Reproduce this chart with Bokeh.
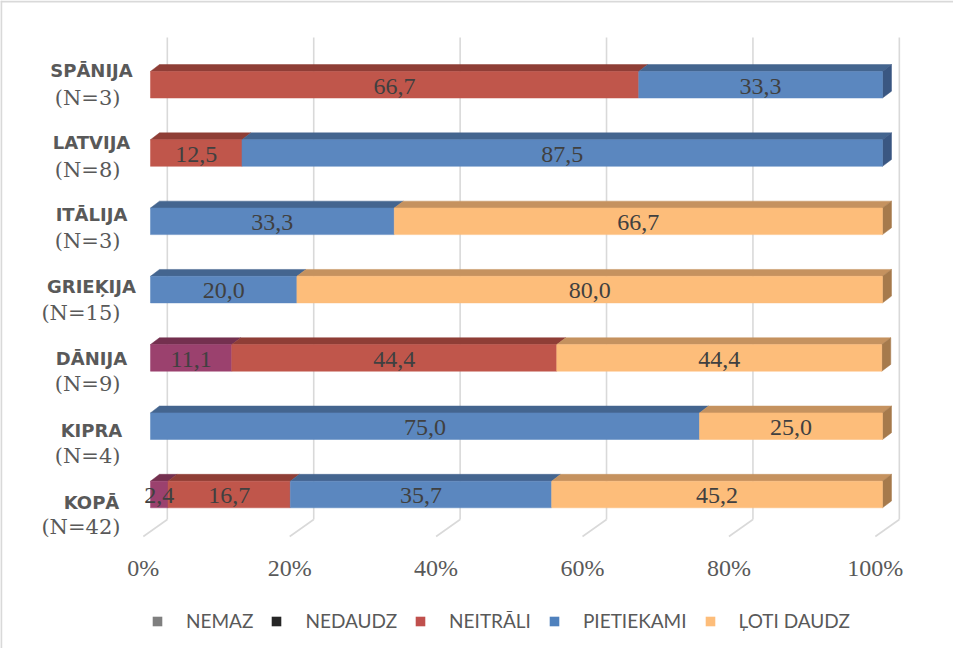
from bokeh.plotting import figure
from bokeh.models import Range1d, Legend, LegendItem, Span
from bokeh.core.properties import value
from bokeh.embed import file_html
from bokeh.resources import INLINE

# ---------------- data ----------------
categories = ["KOPĀ", "KIPRA", "DĀNIJA", "GRIEĶIJA", "ITĀLIJA", "LATVIJA", "SPĀNIJA"]
sample_n = [42, 4, 9, 15, 3, 8, 3]
series_names = ["NEMAZ", "NEDAUDZ", "NEITRĀLI", "PIETIEKAMI", "ĻOTI DAUDZ"]
nemaz = [0, 0, 0, 0, 0, 0, 0]
nedaudz = [2.4, 0, 11.1, 0, 0, 0, 0]
neitrali = [16.7, 0, 44.4, 0, 0, 12.5, 66.7]
pietiekami = [35.7, 75.0, 0, 20.0, 33.3, 87.5, 33.3]
loti_daudz = [45.2, 25.0, 44.4, 80.0, 66.7, 0, 0]
x_ticks = [0, 20, 40, 60, 80, 100]
x_tick_labels = ["0%", "20%", "40%", "60%", "80%", "100%"]

series_values = [nemaz, nedaudz, neitrali, pietiekami, loti_daudz]

# ---------------- styles ----------------
front_colors = ["#7f7f7f", "#9b416e", "#c0564b", "#5b87bf", "#fdbd7a"]
top_colors = ["#5f5f5f", "#74304f", "#8f3e36", "#44658f", "#c5925f"]
side_colors = ["#555555", "#652a45", "#7d362f", "#3a5782", "#a67a4c"]
legend_colors = ["#7f7f7f", "#262626", "#c0504d", "#4f81bd", "#fdbd7a"]

BAR_H = 0.39          # bar thickness (category units)
DX, DY = 1.23, 0.10   # 3D depth of the bars
GX = 2.3              # back wall offset of gridlines
GRID_TOP, GRID_BOTTOM = 6.69, -0.366
FX, FY = 3.28, 0.249  # floor diagonal
TICK_Y = -1.07
NAN = float("nan")

W, H = 953, 648
x_range = Range1d(-20.49, 109.70)
y_range = Range1d(-2.255, 7.233)

p = figure(width=W, height=H, x_range=x_range, y_range=y_range,
           x_axis_type=None, y_axis_type=None, toolbar_location=None,
           output_backend="svg", min_border=0)
p.outline_line_color = None
p.background_fill_color = "white"
p.border_fill_color = "white"

# gridlines (back wall) and floor diagonals
p.segment(x0=[t + GX for t in x_ticks], y0=[GRID_BOTTOM] * len(x_ticks),
          x1=[t + GX for t in x_ticks], y1=[GRID_TOP] * len(x_ticks),
          line_color="#d9d9d9", line_width=1.6)
p.segment(x0=[t + GX for t in x_ticks], y0=[GRID_BOTTOM] * len(x_ticks),
          x1=[t + GX - FX for t in x_ticks], y1=[GRID_BOTTOM - FY] * len(x_ticks),
          line_color="#d9d9d9", line_width=1.6)

# build stacked segments
fl, fr, fb, ft, fc = [], [], [], [], []
top_xs, top_ys, top_c = [], [], []
side_xs, side_ys, side_c = [], [], []
lab_x, lab_y, lab_t = [], [], []
for i in range(len(categories)):
    left = 0.0
    last = None
    for s, vals in enumerate(series_values):
        v = vals[i]
        if v <= 0:
            continue
        right = left + v
        bot, top = i - BAR_H / 2, i + BAR_H / 2
        fl.append(left); fr.append(right); fb.append(bot); ft.append(top)
        fc.append(front_colors[s])
        top_xs.append([left, right, right + DX, left + DX])
        top_ys.append([top, top, top + DY, top + DY])
        top_c.append(top_colors[s])
        lab_x.append((left + right) / 2)
        lab_y.append(i)
        lab_t.append(f"{v:.1f}".replace(".", ","))
        last = (right, bot, top, s)
        left = right
    if last:
        right, bot, top, s = last
        side_xs.append([right, right + DX, right + DX, right])
        side_ys.append([bot, bot + DY, top + DY, top])
        side_c.append(side_colors[s])

p.patches(xs=top_xs, ys=top_ys, fill_color=top_c, line_color=top_c, line_width=0.5)
p.patches(xs=side_xs, ys=side_ys, fill_color=side_c, line_color=side_c, line_width=0.5)
p.quad(left=fl, right=fr, bottom=fb, top=ft, fill_color=fc, line_color=fc, line_width=0.5)

p.text(x=lab_x, y=[y - 0.02 for y in lab_y], text=lab_t,
       text_font=value("Liberation Serif"), text_font_size="24px",
       text_color="#404040", text_align="center", text_baseline="middle")

# x tick labels
p.text(x=[t + GX - FX for t in x_ticks], y=[TICK_Y] * len(x_ticks), text=x_tick_labels,
       text_font=value("Liberation Serif"), text_font_size="24px",
       text_color="#595959", text_align="center", text_baseline="middle")

# category labels
idx = list(range(len(categories)))
p.text(x=[-8.06] * len(categories), y=[-0.117 + 1.054 * i for i in idx], text=categories,
       text_font=value("DejaVu Sans"), text_font_style="bold", text_font_size="18px",
       text_color="#595959", text_align="center", text_baseline="middle")
p.text(x=[-4.1] * len(categories), y=[-0.483 + 1.047 * i for i in idx],
       text=[f"(N={n})" for n in sample_n],
       text_font=value("DejaVu Serif"), text_font_size="21px",
       text_color="#595959", text_align="right", text_baseline="middle")

# legend (swatches drawn from placeholder renderers with no visible marks)
items = []
for name, c in zip(series_names, legend_colors):
    r = p.quad(left=[NAN], right=[NAN], bottom=[NAN], top=[NAN], fill_color=c, line_color=None)
    items.append(LegendItem(label=name, renderers=[r]))
legend = Legend(items=items, orientation="horizontal", location=(151, 16),
                glyph_width=12, glyph_height=12, label_standoff=23, spacing=17,
                padding=0, margin=0, border_line_color=None, background_fill_alpha=0,
                label_text_font="Lato", label_text_font_size="19px",
                label_text_color="#595959")
p.add_layout(legend)

# chart-area border (top and left edges)
p.add_layout(Span(location=y_range.end - 0.015, dimension="width",
                  line_color="#d9d9d9", line_width=2))
p.add_layout(Span(location=x_range.start + 0.1, dimension="height",
                  line_color="#d9d9d9", line_width=2))

open("out.html", "w").write(file_html(p, INLINE))
